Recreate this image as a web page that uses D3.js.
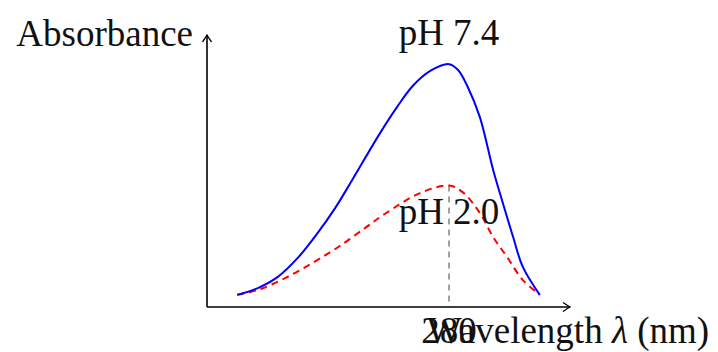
<!DOCTYPE html>
<html>
<head>
<meta charset="utf-8">
<script src="https://cdn.jsdelivr.net/npm/d3@7"></script>
<style>
  html, body { margin: 0; padding: 0; background: #fff; }
  svg text { font-family: "Liberation Serif", "Times New Roman", serif; fill: #111; }
</style>
</head>
<body>
<div id="chart"></div>
<script>
// wavelength (nm) and absorbance
var wavelengths7 = [245, 248.4, 251.7, 255.0, 258.3, 261.2, 264.0, 268.6, 271.4, 274.0, 276.9, 280, 281.5, 283.1, 285.1, 287.3, 288.9, 290.6, 292.2, 295];
var absorb7 =      [0.05, 0.078, 0.124, 0.202, 0.305, 0.408, 0.523, 0.716, 0.823, 0.91, 0.972, 1.0, 0.976, 0.906, 0.782, 0.564, 0.428, 0.288, 0.165, 0.05];

var wavelengths2 = [245, 248.4, 252.9, 257.4, 261.7, 266.1, 269.5, 275.2, 280, 282.3, 285.1, 287.3, 289.6, 292.2, 295];
var absorb2 =      [0.05, 0.07, 0.119, 0.181, 0.247, 0.325, 0.385, 0.469, 0.5, 0.472, 0.387, 0.288, 0.206, 0.111, 0.05];

var peakWavelength = 280;
var tickLabels = ["280"];
var xDomain = [240, 300];
var yDomain = [0, 1.12];

var W = 718, H = 352;
var svg = d3.select("#chart").append("svg")
    .attr("width", W)
    .attr("height", H);

var x = d3.scaleLinear().domain(xDomain).range([207, 570]);
var y = d3.scaleLinear().domain(yDomain).range([307, 35]);

// tikz style "->" arrow head
var defs = svg.append("defs");
defs.append("marker")
    .attr("id", "arrow")
    .attr("viewBox", "-8 -5 9 10")
    .attr("refX", 0)
    .attr("refY", 0)
    .attr("markerWidth", 9)
    .attr("markerHeight", 10)
    .attr("markerUnits", "userSpaceOnUse")
    .attr("orient", "auto")
  .append("path")
    .attr("d", "M-6.5,-4.2 Q-2,-1 0,0 Q-2,1 -6.5,4.2")
    .attr("fill", "none")
    .attr("stroke", "#000")
    .attr("stroke-width", 1.3)
    .attr("stroke-linecap", "round");

var line = d3.line()
    .x(d => x(d[0]))
    .y(d => y(d[1]))
    .curve(d3.curveCatmullRom.alpha(0.5));

var blue = wavelengths7.map((w, i) => [w, absorb7[i]]);
var red = wavelengths2.map((w, i) => [w, absorb2[i]]);

// dashed drop line at the peak
svg.append("line")
    .attr("x1", x(peakWavelength)).attr("x2", x(peakWavelength))
    .attr("y1", y(0.5)).attr("y2", y(0))
    .attr("stroke", "#6e6e6e")
    .attr("stroke-width", 1.3)
    .attr("stroke-dasharray", "6,5");

svg.append("path")
    .datum(red)
    .attr("d", line)
    .attr("fill", "none")
    .attr("stroke", "#ff0000")
    .attr("stroke-width", 2)
    .attr("stroke-dasharray", "7,5");

svg.append("path")
    .datum(blue)
    .attr("d", line)
    .attr("fill", "none")
    .attr("stroke", "#0000ff")
    .attr("stroke-width", 2);

// axes
svg.append("line")
    .attr("x1", x.range()[0]).attr("x2", x.range()[1])
    .attr("y1", y(0)).attr("y2", y(0))
    .attr("stroke", "#000").attr("stroke-width", 1.6)
    .attr("marker-end", "url(#arrow)");

svg.append("line")
    .attr("x1", x.range()[0]).attr("x2", x.range()[0])
    .attr("y1", y(0)).attr("y2", y.range()[1])
    .attr("stroke", "#000").attr("stroke-width", 1.6)
    .attr("marker-end", "url(#arrow)");

var fs = "37px";

svg.append("text")
    .attr("x", x.range()[0] - 14)
    .attr("y", y.range()[1] + 11)
    .attr("text-anchor", "end")
    .style("font-size", fs)
    .text("Absorbance");

svg.selectAll(".tick-label")
    .data(tickLabels)
  .enter().append("text")
    .attr("class", "tick-label")
    .attr("x", d => x(+d))
    .attr("y", y(0) + 36)
    .attr("text-anchor", "middle")
    .style("font-size", fs)
    .text(d => d);

var xl = svg.append("text")
    .attr("x", x.range()[1] - 2)
    .attr("y", y(0) + 36)
    .attr("text-anchor", "middle")
    .style("font-size", fs);
xl.append("tspan").text("Wavelength ");
xl.append("tspan").style("font-style", "italic").text("λ");
xl.append("tspan").text(" (nm)");

svg.append("text")
    .attr("x", x(peakWavelength))
    .attr("y", y(d3.max(absorb7)) - 19)
    .attr("text-anchor", "middle")
    .style("font-size", fs)
    .text("pH 7.4");

svg.append("text")
    .attr("x", x(peakWavelength))
    .attr("y", y(d3.max(absorb2)) + 38)
    .attr("text-anchor", "middle")
    .style("font-size", fs)
    .text("pH 2.0");
</script>
</body>
</html>
